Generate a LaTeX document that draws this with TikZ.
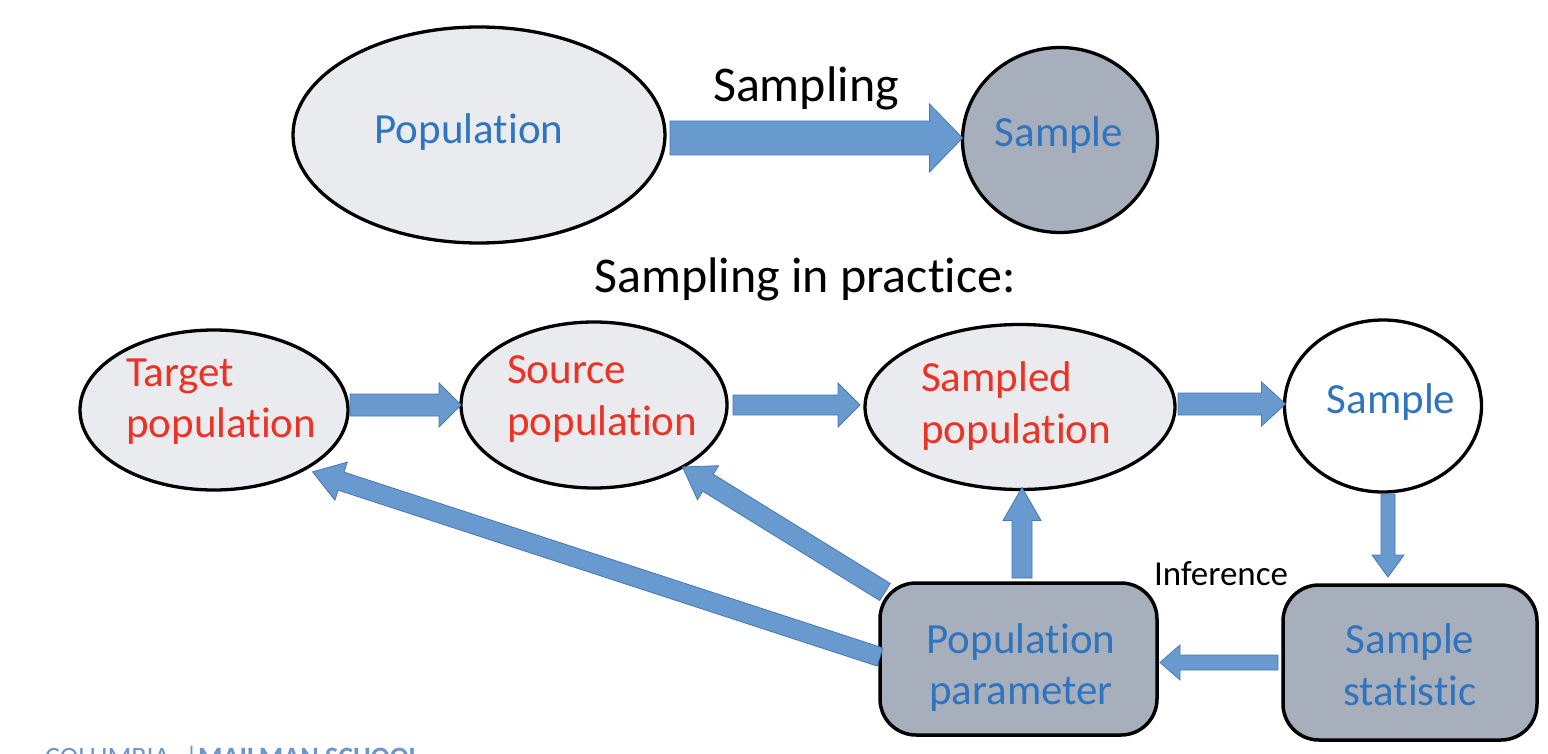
\documentclass[tikz,border=0pt]{standalone}
\usepackage{fontspec}
\setmainfont{Carlito}[Ligatures=NoCommon, RawFeature=-liga, RawFeature=-calt, RawFeature=-clig]
\usetikzlibrary{calc,shapes.geometric}
\definecolor{tblue}{RGB}{46,116,190}
\definecolor{tred}{RGB}{236,50,36}
\definecolor{lfill}{RGB}{233,235,238}
\definecolor{dfill}{RGB}{167,175,189}
\definecolor{afill}{RGB}{104,153,207}
\definecolor{aedge}{RGB}{72,120,180}
\definecolor{logoblue}{RGB}{110,150,205}
\tikzset{
  ell/.style={ellipse, draw=black, line width=3.3pt, inner sep=0pt, outer sep=0pt},
  rbox/.style={rectangle, rounded corners=36pt, draw=black, line width=3.5pt, fill=dfill, inner sep=0pt, outer sep=0pt},
  btxt/.style={font=\fontsize{43}{52}\selectfont, text=tblue, inner sep=0pt},
  rtxt/.style={font=\fontsize{43}{52}\selectfont, text=tred, inner sep=0pt},
  ktxt/.style={font=\fontsize{50}{60}\selectfont, text=black, inner sep=0pt},
  smalltxt/.style={font=\fontsize{35}{42}\selectfont, text=black, inner sep=0pt},
  logotxt/.style={font=\fontsize{28}{32}\selectfont, text=logoblue, inner sep=0pt},
  barrow/.style={fill=afill, draw=aedge, line width=0.8pt, line join=miter},
}
\newcommand{\blockarrow}[5]{%
  \coordinate (bac) at ($#2!#5!#1$);
  \filldraw[barrow] ($#1!#3!90:#2$) -- ($(bac)!#3!-90:#1$) -- ($(bac)!#4!-90:#1$) -- #2
    -- ($(bac)!#4!90:#1$) -- ($(bac)!#3!90:#1$) -- ($#1!#3!-90:#2$) -- cycle;
}
\begin{document}
\begin{tikzpicture}[x=1pt,y=-1pt]
\useasboundingbox (0,0) rectangle (1548,754);
\fill[white] (0,0) rectangle (1548,754);

% ---- top row
\node[ell, fill=lfill, minimum width=372pt, minimum height=216pt] (pop) at (479,135) {};
\node[btxt, anchor=base] (popt) at (469,144) {Population};
\node[ell, fill=dfill, minimum width=195pt, minimum height=185pt] (samp1) at (1060,140) {};
\node[btxt, anchor=base] (samp1t) at (1059,147) {Sample};
\node[ktxt, anchor=base] (samplingt) at (806,102) {Sampling};
\coordinate (a1e) at ($(samp1.west)+(0,-2)$);
\coordinate (a1s) at ($(pop.east |- a1e)+(5,0)$);
\blockarrow{(a1s)}{(a1e)}{17pt}{34pt}{33pt}

\node[ktxt, anchor=base] (practt) at (805,292) {Sampling in practice:};

% ---- second row
\node[ell, fill=lfill, minimum width=268pt, minimum height=160pt] (tgt) at (214,410) {};
\node[rtxt, anchor=base west] (tgt1) at (126,386) {Target};
\node[rtxt, anchor=base west] (tgt2) at (126,437) {population};

\node[ell, fill=lfill, minimum width=266pt, minimum height=166pt] (src) at (594,405) {};
\node[rtxt, anchor=base west] (src1) at (507,383) {Source};
\node[rtxt, anchor=base west] (src2) at (507,435) {population};

\node[ell, fill=lfill, minimum width=310pt, minimum height=165pt] (smp) at (1020,407) {};
\node[rtxt, anchor=base west] (smp1) at (921,391) {Sampled};
\node[rtxt, anchor=base west] (smp2) at (921,443) {population};

\node[ell, fill=white, minimum width=197pt, minimum height=172pt] (samp2) at (1383,406) {};
\node[btxt, anchor=base] (samp2t) at (1391,413) {Sample};

% ---- boxes
\node[rbox, minimum width=277pt, minimum height=152pt] (pp) at (1018.5,659) {};
\node[btxt, anchor=base] (pp1) at (1021,653) {Population};
\node[btxt, anchor=base] (pp2) at (1021,704) {parameter};

\node[rbox, minimum width=254pt, minimum height=155pt] (ss) at (1410,662.5) {};
\node[btxt, anchor=base] (ss1) at (1410,653) {Sample};
\node[btxt, anchor=base] (ss2) at (1410,705) {statistic};

\node[smalltxt, anchor=base] (inf) at (1221,585) {Inference};

% ---- row arrows
\coordinate (h1e) at (src.west);
\coordinate (h1s) at ($(tgt.east |- h1e)+(2,0)$);
\blockarrow{(h1s)}{(h1e)}{11pt}{22pt}{22pt}

\coordinate (h2e) at ($(smp.west)+(-5,-2)$);
\coordinate (h2s) at ($(src.east |- h2e)+(6,0)$);
\blockarrow{(h2s)}{(h2e)}{10pt}{22pt}{22pt}

\coordinate (h3e) at ($(samp2.west)+(1,-2)$);
\coordinate (h3s) at ($(smp.east |- h3e)+(3,0)$);
\blockarrow{(h3s)}{(h3e)}{11pt}{22pt}{24pt}

% ---- vertical arrows
\coordinate (v1s) at ($(pp.north)+(3.5,-5)$);
\coordinate (v1e) at ($(v1s |- smp.south)+(0,-2)$);
\blockarrow{(v1s)}{(v1e)}{10pt}{19pt}{33pt}

\coordinate (v2s) at ($(samp2.south)+(5,2)$);
\coordinate (v2e) at ($(v2s |- ss.north)+(0,-8)$);
\blockarrow{(v2s)}{(v2e)}{7pt}{16pt}{22pt}

% ---- inference arrow
\coordinate (i1s) at ($(ss.west)+(-5,0)$);
\coordinate (i1e) at ($(pp.east |- i1s)+(3,0)$);
\blockarrow{(i1s)}{(i1e)}{7.5pt}{17.5pt}{20pt}

% ---- diagonal arrows
\coordinate (d1s) at ($(pp.west)+(5,-67)$);
\coordinate (d1e) at (src.-35);
\blockarrow{(d1s)}{(d1e)}{10pt}{20pt}{30pt}

\coordinate (d2s) at ($(pp.west)+(0,-2)$);
\coordinate (d2e) at ($(tgt.-32)+(6,4)$);
\blockarrow{(d2s)}{(d2e)}{9.5pt}{20pt}{30pt}

% ---- cropped footer logo (cut off at the bottom edge, as in the reference)
\node[logotxt, anchor=base west] (logo1) at (45,766) {COLUMBIA};
\node[logotxt, anchor=base west] (logo2) at (185,766) {|};
\node[logotxt, anchor=base west, font=\fontsize{28}{32}\selectfont\bfseries] (logo3) at (198,766) {MAILMAN SCHOOL};
\end{tikzpicture}
\end{document}
